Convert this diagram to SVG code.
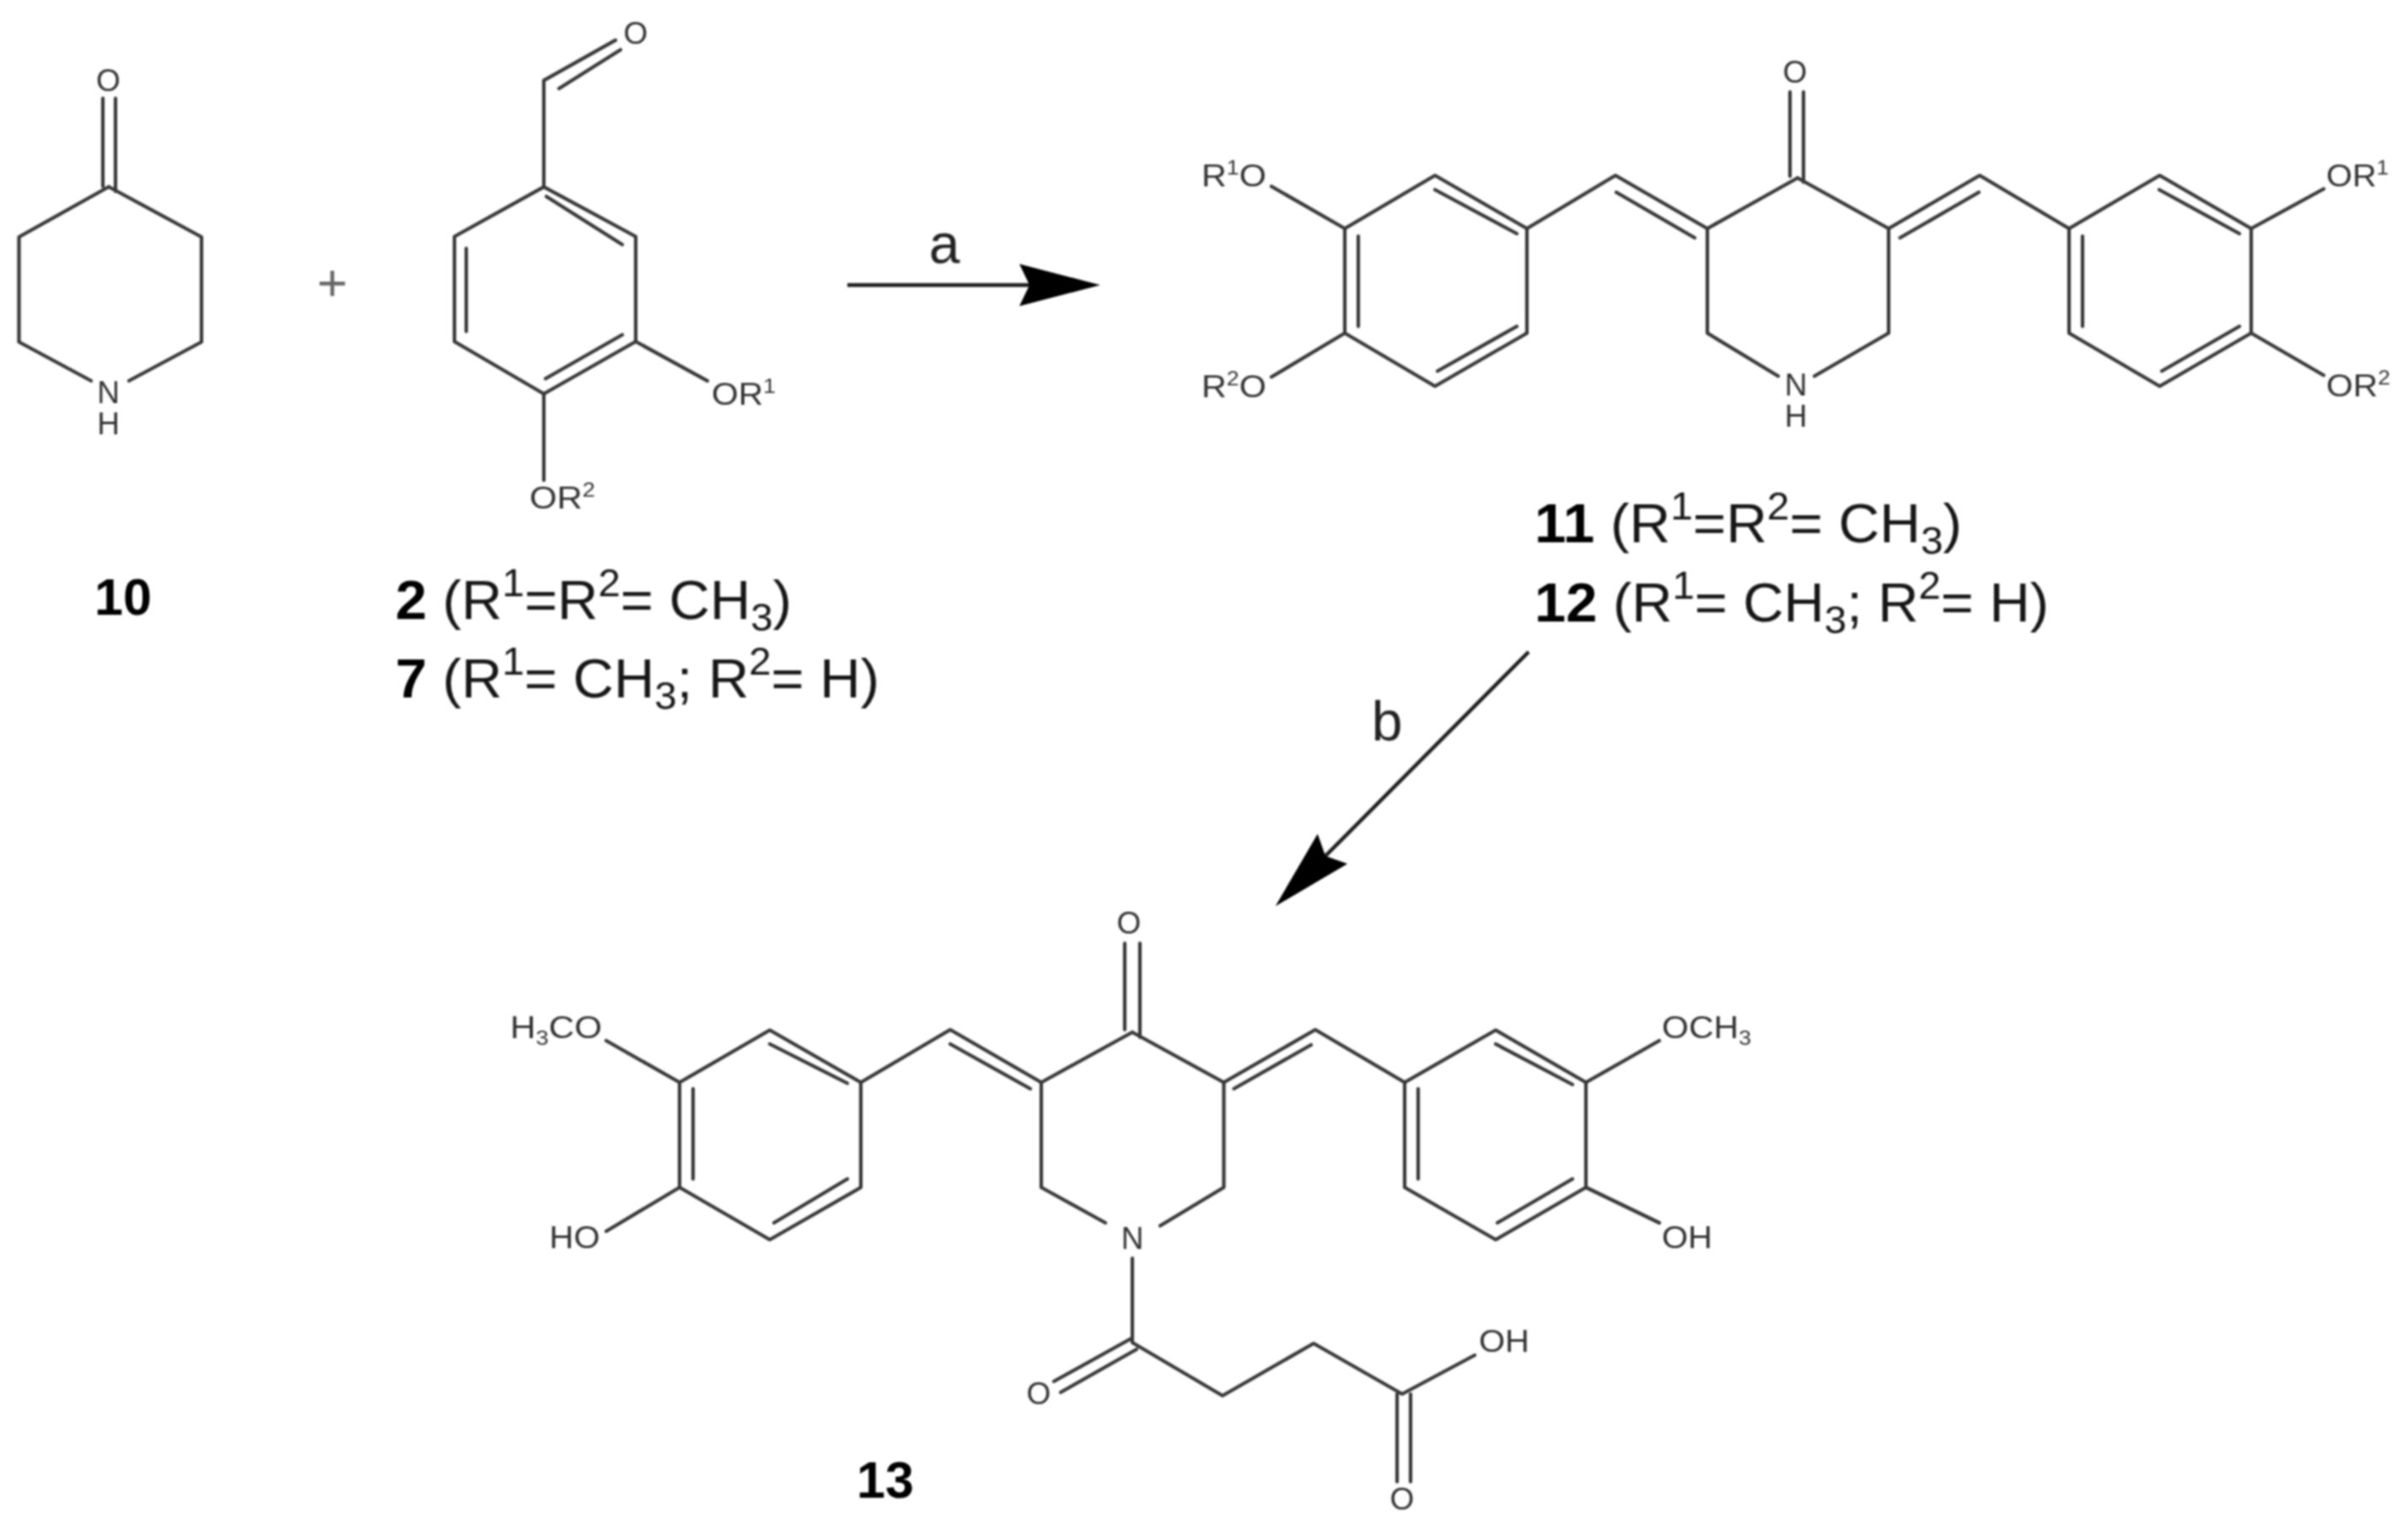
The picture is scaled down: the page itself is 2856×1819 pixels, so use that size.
<svg xmlns="http://www.w3.org/2000/svg" width="2856" height="1819" viewBox="0 0 2856 1819">
<style>
.bond{fill:none;stroke:#383838;stroke-width:4.2;stroke-linecap:round;stroke-linejoin:round}
.arrow{fill:none;stroke:#1c1c1c;stroke-width:4.5}
text{font-family:"Liberation Sans",Arial,sans-serif}
.atom{font-size:37px;fill:#333}
.lab{font-size:65px;fill:#151515}
.b{font-weight:bold;fill:#000}
.step{font-size:66px;fill:#222;text-anchor:middle}
.s{font-size:24px}
.ls{font-size:46px}
.m{text-anchor:middle}
.num{font-size:61px}
</style>
<defs>
<marker id="head" markerUnits="userSpaceOnUse" markerWidth="100" markerHeight="54" viewBox="0 0 100 54" refX="12" refY="27" orient="auto">
<path d="M0 2L96 27L0 52L12 27Z" fill="#000"/>
</marker>
<filter id="soft" filterUnits="userSpaceOnUse" x="0" y="0" width="2856" height="1819"><feGaussianBlur stdDeviation="0.8"/></filter>
</defs>
<rect width="2856" height="1819" fill="#fff"/>
<g filter="url(#soft)">
<g id="connectors">
<path class="arrow" marker-end="url(#head)" d="M1005 338H1221"/>
<path class="arrow" marker-end="url(#head)" d="M1813 773L1572 1015"/>
</g>
<g id="step-a"><text class="step" x="1120" y="312">a</text></g>
<g id="step-b"><text class="step" x="1645" y="878">b</text></g>
<g id="plus"><text x="394" y="356" font-size="62" fill="#666" text-anchor="middle">+</text></g>

<g id="node-10">
<path class="bond" d="M129 221.500L239 281V405.500L153 451.500M108 451.500L22.500 405.500V281L129 221.500M122 116.700V221M137 116.700V227"/>
<text class="atom m" x="128.500" y="108">O</text>
<text class="atom m" x="128.500" y="478">N</text>
<text class="atom m" x="128.500" y="515">H</text>
<text class="lab b num" x="112" y="729">10</text>
</g>

<g id="node-2">
<path class="bond" d="M645 221.600L754 280.500V405L645 467L539 405V280.500L645 221.600V95.400L730 47.700M663 105L736 59M648 233L738 290M553 294.500V393M647 449L738 397M754 405L839 451.600M645 467V569.400"/>
<text class="atom m" x="754" y="52">O</text>
<text class="atom" x="844" y="480" textLength="76" lengthAdjust="spacingAndGlyphs">OR<tspan class="s" dy="-14">1</tspan></text>
<text class="atom" x="628" y="603" textLength="78" lengthAdjust="spacingAndGlyphs">OR<tspan class="s" dy="-14">2</tspan></text>
<text class="lab" x="469" y="734" textLength="470" lengthAdjust="spacingAndGlyphs"><tspan class="b">2</tspan> (R<tspan class="ls" dy="-27">1</tspan><tspan dy="27">=R</tspan><tspan class="ls" dy="-27">2</tspan><tspan dy="27">= CH</tspan><tspan class="ls" dy="14">3</tspan><tspan dy="-14">)</tspan></text>
<text class="lab" x="469" y="827" textLength="574" lengthAdjust="spacingAndGlyphs"><tspan class="b">7</tspan> (R<tspan class="ls" dy="-27">1</tspan><tspan dy="27">= CH</tspan><tspan class="ls" dy="14">3</tspan><tspan dy="-14">; R</tspan><tspan class="ls" dy="-27">2</tspan><tspan dy="27">= H)</tspan></text>
</g>

<g id="node-11-12">
<path class="bond" d="M2132 211L2240 271V395L2152 446M2109 446L2025 395V271L2132 211M2123 109V209M2139 109V216"/>
<path class="bond" d="M2025 271L1916 208L1811 271M2010 282L1917 228"/>
<path class="bond" d="M1811 271L1702 208L1595 271V395L1702 458L1811 395V271M1702 225L1799 277M1799 387L1705 440M1611 280V387M1595 271L1508 221M1595 395L1508 447"/>
<path class="bond" d="M2240 271L2348 208L2454 271M2253.500 282L2347 228"/>
<path class="bond" d="M2454 271L2561.500 208L2670 271V395L2561.500 458L2454 395V271M2561 225L2656 277M2656 387L2564 440M2470 280V387M2670 271L2756 224M2670 395L2756 445"/>
<text class="atom m" x="2129" y="98">O</text>
<text class="atom m" x="2130" y="469">N</text>
<text class="atom m" x="2130" y="506">H</text>
<text class="atom" x="1425" y="221" textLength="77" lengthAdjust="spacingAndGlyphs">R<tspan class="s" dy="-14">1</tspan><tspan dy="14">O</tspan></text>
<text class="atom" x="1425" y="471" textLength="77" lengthAdjust="spacingAndGlyphs">R<tspan class="s" dy="-14">2</tspan><tspan dy="14">O</tspan></text>
<text class="atom" x="2759" y="221" textLength="74" lengthAdjust="spacingAndGlyphs">OR<tspan class="s" dy="-14">1</tspan></text>
<text class="atom" x="2759" y="470" textLength="76" lengthAdjust="spacingAndGlyphs">OR<tspan class="s" dy="-14">2</tspan></text>
<text class="lab" x="1820" y="643" textLength="507" lengthAdjust="spacingAndGlyphs"><tspan class="b">11</tspan> (R<tspan class="ls" dy="-27">1</tspan><tspan dy="27">=R</tspan><tspan class="ls" dy="-27">2</tspan><tspan dy="27">= CH</tspan><tspan class="ls" dy="14">3</tspan><tspan dy="-14">)</tspan></text>
<text class="lab" x="1820" y="737" textLength="610" lengthAdjust="spacingAndGlyphs"><tspan class="b">12</tspan> (R<tspan class="ls" dy="-27">1</tspan><tspan dy="27">= CH</tspan><tspan class="ls" dy="14">3</tspan><tspan dy="-14">; R</tspan><tspan class="ls" dy="-27">2</tspan><tspan dy="27">= H)</tspan></text>
</g>

<g id="node-13">
<path class="bond" d="M1343 1224L1451.500 1283.500V1408L1376 1453.500M1311 1450L1235 1408V1283.500L1343 1224M1334 1118.500V1221M1352 1118.500V1230"/>
<path class="bond" d="M1235 1283.500L1127 1221L1021 1283.500M1222 1291L1127 1238"/>
<path class="bond" d="M1021 1283.500L913 1221.500L806 1283.500V1408L913 1470L1021 1408V1283.500M913 1238L1005 1284.500M1005 1398L918 1450M822 1291V1398M806 1283.500L719 1234M806 1408L719 1460"/>
<path class="bond" d="M1451.500 1283.500L1560 1221L1666 1283.500M1463.500 1291L1555 1239"/>
<path class="bond" d="M1666 1283.500L1774 1221.500L1881 1283.500V1408L1774 1470L1666 1408V1283.500M1774 1238L1865 1286M1865 1398L1776 1450M1682 1291V1398M1881 1283.500L1968 1234M1881 1408L1968 1450"/>
<path class="bond" d="M1343 1492V1592L1450 1655L1558 1593L1663 1653L1749 1607M1348 1600L1258 1651M1342 1587L1250 1638M1657 1653V1757M1673 1653V1757"/>
<text class="atom m" x="1339" y="1107">O</text>
<text class="atom m" x="1343" y="1481">N</text>
<text class="atom" x="605" y="1231" textLength="109" lengthAdjust="spacingAndGlyphs">H<tspan class="s" dy="8">3</tspan><tspan dy="-8">CO</tspan></text>
<text class="atom" x="651.500" y="1480" textLength="60" lengthAdjust="spacingAndGlyphs">HO</text>
<text class="atom" x="1971" y="1231" textLength="106" lengthAdjust="spacingAndGlyphs">OCH<tspan class="s" dy="8">3</tspan></text>
<text class="atom" x="1971" y="1480" textLength="60" lengthAdjust="spacingAndGlyphs">OH</text>
<text class="atom" x="1754" y="1603" textLength="60" lengthAdjust="spacingAndGlyphs">OH</text>
<text class="atom m" x="1232" y="1665">O</text>
<text class="atom m" x="1663" y="1790">O</text>
<text class="lab b num" x="1016" y="1776">13</text>
</g>
</g>
</svg>
